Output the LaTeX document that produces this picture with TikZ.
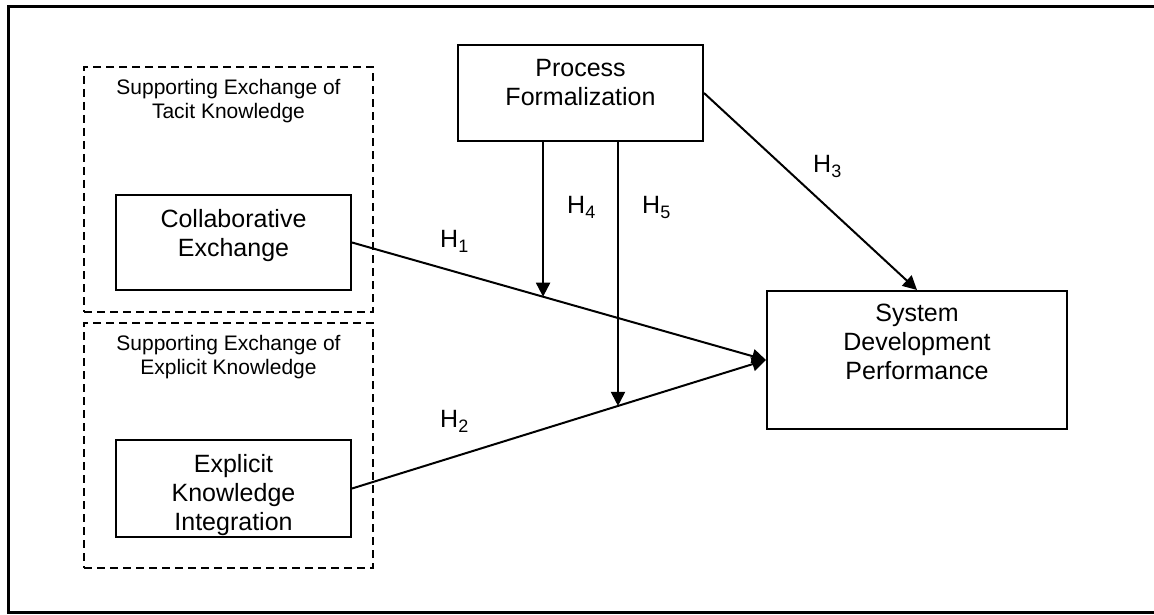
\documentclass[tikz,border=0pt]{standalone}
\usepackage{fontspec}
\setmainfont{Liberation Sans}
\usetikzlibrary{arrows.meta,calc}
\newcommand{\hyp}[1]{H\raisebox{-5pt}{\fontsize{18}{18}\selectfont #1}}
\begin{document}
\begin{tikzpicture}[x=1pt,y=-1pt,
  box/.style={draw, line width=2pt, inner sep=0pt},
  dbox/.style={draw, line width=2pt, dash pattern=on 8pt off 5pt, inner sep=0pt},
  maintext/.style={align=center, inner sep=0pt, anchor=north, font=\fontsize{25}{29}\selectfont},
  smalltext/.style={align=center, inner sep=0pt, anchor=north, font=\fontsize{21}{23.5}\selectfont},
  hlabel/.style={inner sep=0pt, anchor=base west, font=\fontsize{25}{29}\selectfont},
  arr/.style={line width=2pt, -{Triangle[length=14pt,width=14pt]}}]
\useasboundingbox (0,0) rectangle (1154,615);
% open frame
\coordinate (ftr) at (1154,7);
\coordinate (ftl) at (8,7);
\coordinate (fbl) at (8,612);
\coordinate (fbr) at (1154,612);
\draw[line width=3pt] (ftr) -- (ftl) -- (fbl) -- (fbr);
% dashed groups
\node[dbox, minimum width=289pt, minimum height=245pt] (tacit) at (228.5,189.5) {};
\node[dbox, minimum width=289pt, minimum height=245pt] (explicit) at (228.5,445.5) {};
\node[smalltext] (tacitT) at (228.5,79.5) {Supporting Exchange of\\Tacit Knowledge};
\node[smalltext] (explicitT) at (228.5,335.5) {Supporting Exchange of\\Explicit Knowledge};
% boxes
\node[box, minimum width=235pt, minimum height=95pt] (collab) at (233.5,242.5) {};
\node[maintext] (collabT) at (233.5,209) {Collaborative\\Exchange};
\node[box, minimum width=235pt, minimum height=97pt] (eki) at (233.5,488.5) {};
\begin{scope}
\clip (eki.south west) rectangle (eki.north east);
\node[maintext] (ekiT) at (233.5,454) {Explicit\\Knowledge\\Integration};
\end{scope}
\node[box, minimum width=245pt, minimum height=96pt] (pf) at (580.5,93) {};
\node[maintext] (pfT) at (580.5,59) {Process\\Formalization};
\node[box, minimum width=300pt, minimum height=138pt] (sdp) at (917,360) {};
\node[maintext] (sdpT) at (917,304) {System\\Development\\Performance};
% connectors
\draw[arr] (collab.east) -- (sdp.west);
\draw[arr] (eki.east) -- (sdp.west);
\draw[arr] (pf.east) -- (sdp.north);
\coordinate (h4end) at ($(collab.east)!0.4615!(sdp.west)$);
\coordinate (h5end) at ($(eki.east)!0.6425!(sdp.west)$);
\draw[arr] (pf.south -| h4end) -- (h4end);
\draw[arr] (pf.south -| h5end) -- (h5end);
% labels
\node[hlabel] (h1) at (440,247) {\hyp{1}};
\node[hlabel] (h2) at (440,427) {\hyp{2}};
\node[hlabel] (h3) at (813,172) {\hyp{3}};
\node[hlabel] (h4) at (567,213) {\hyp{4}};
\node[hlabel] (h5) at (642,213) {\hyp{5}};
\end{tikzpicture}
\end{document}
